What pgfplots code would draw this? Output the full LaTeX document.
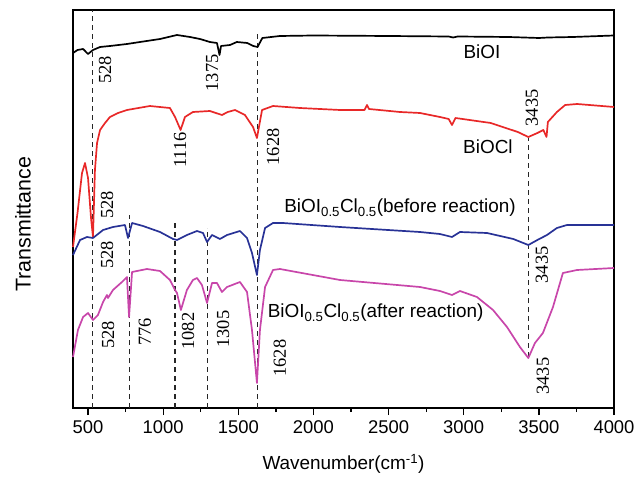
\documentclass[border=0pt]{standalone}
\usepackage{fontspec}
\setmainfont{Liberation Sans}
\newfontfamily\tnr{Liberation Serif}
\usepackage{pgfplots}
\pgfplotsset{compat=1.18}
\definecolor{cRed}{RGB}{232,40,40}
\definecolor{cBlue}{RGB}{40,50,150}
\definecolor{cMag}{RGB}{200,70,170}
\tikzset{
  num/.style={rotate=90, font=\tnr\fontsize{18.5}{18.5}\selectfont, inner sep=0pt},
  lab/.style={font=\fontsize{19}{20}\selectfont, inner sep=0pt},
  guide/.style={dash pattern=on 5bp off 4bp, line width=1.1pt, black!85},
}
\begin{document}
\begin{tikzpicture}
\begin{axis}[
    scale only axis, width=541bp, height=398bp,
    xmin=400, xmax=4000, ymin=0, ymax=398,
    xtick={500,1000,...,4000}, minor x tick num=1,
    ytick=\empty, xtick pos=bottom, tick align=outside,
    major tick length=7bp, minor tick length=4bp,
    axis line style={line width=1.5pt},
    every tick/.style={line width=1.3pt, black},
    /pgf/number format/assume math mode=true,
    /pgf/number format/1000 sep={},
    ticklabel style={font=\fontsize{18.5}{18.5}\selectfont},
    xticklabel style={yshift=-2bp},
    xlabel={Wavenumber(cm\textsuperscript{-1})},
    ylabel={Transmittance},
    xlabel style={font=\fontsize{19}{20}\selectfont, at={([yshift=-56bp]axis description cs:0.5,0)}, anchor=center},
    ylabel style={font=\fontsize{21.5}{22}\selectfont, at={([xshift=-50bp]axis description cs:0,0.462)}, anchor=center},
    clip=false,
]
% dashed guide lines
\addplot[guide] coordinates {(530,0)(530,398)};
\addplot[guide] coordinates {(773,0)(773,193)};
\addplot[guide] coordinates {(1079,0)(1079,186)};
\addplot[guide] coordinates {(1292,0)(1292,180)};
\addplot[guide] coordinates {(1628,0)(1628,375)};
\addplot[guide] coordinates {(3434,51)(3434,270)};

% BiOI
\addplot[black, line width=1.7pt, line join=round] coordinates {
(400,355)(430,358)(467,359)(500,354)(533,358)(580,361)(646,362)(759,364)(846,366)(979,369)(1092,373)(1178,371)(1245,369)(1311,366)(1358,365)(1375,353)(1385,362)(1445,363)(1490,366)(1560,365)(1600,362)(1628,361)(1660,370)(1777,372)(2000,372.5)(2500,372)(2900,371.5)(2929,370.5)(2960,371.5)(3300,371)(3500,370)(3560,370.5)(3727,371)(4000,372.5)
};
% BiOCl
\addplot[cRed, line width=1.7pt, line join=round] coordinates {
(400,161)(430,195)(460,235)(480,245)(500,230)(520,190)(533,171)(546,238)(560,265)(580,278)(613,285)(646,291)(700,295)(759,298)(912,302)(1045,300)(1079,291)(1116,278)(1145,291)(1198,296)(1311,297)(1391,293)(1430,296)(1478,298)(1544,293)(1598,281)(1624,270)(1658,298)(1731,302)(1910,300)(2177,298)(2340,298)(2356,303)(2370,299)(2576,296)(2709,295)(2842,291)(2900,289)(2922,283)(2945,290)(3180,285)(3360,276)(3430,271)(3490,275)(3530,278)(3551,271)(3560,286)(3620,296)(3675,303)(3755,304)(4000,301)
};
% before reaction
\addplot[cBlue, line width=1.7pt, line join=round] coordinates {
(400,153)(447,168)(493,171)(533,170)(600,178)(666,181)(746,183)(766,170)(793,185)(866,182)(979,176)(1066,169)(1092,168)(1158,173)(1225,177)(1265,175)(1292,166)(1325,173)(1378,169)(1425,173)(1511,177)(1558,170)(1591,155)(1624,133)(1644,158)(1678,180)(1731,185)(1797,185)(2177,181)(2709,176)(2842,174)(2922,171)(2975,176)(3155,175)(3330,169)(3430,163)(3490,168)(3554,173)(3620,180)(3687,183)(4000,183)
};
% after reaction
\addplot[cMag, line width=1.7pt, line join=round] coordinates {
(400,51)(433,78)(467,91)(500,95)(533,88)(566,93)(600,106)(626,113)(633,110)(666,118)(726,126)(759,131)(773,91)(793,136)(892,139)(979,137)(1045,128)(1079,118)(1092,115)(1118,98)(1158,118)(1198,128)(1225,130)(1258,123)(1292,105)(1325,125)(1358,125)(1391,116)(1425,121)(1511,126)(1558,116)(1591,78)(1624,25)(1644,78)(1678,121)(1731,138)(1777,139)(2177,128)(2709,121)(2842,117)(2922,113)(2975,117)(3088,111)(3195,98)(3288,81)(3374,61)(3430,50)(3474,65)(3527,75)(3594,101)(3660,135)(3754,138)(4000,140)
};

% peak labels
\node[num] at (axis cs:613,338) {528};
\node[num] at (axis cs:1325,335) {1375};
\node[num] at (axis cs:1112,258) {1116};
\node[num] at (axis cs:1731,261) {1628};
\node[num] at (axis cs:3454,300) {3435};
\node[num] at (axis cs:626,203) {528};
\node[num] at (axis cs:626,153) {528};
\node[num] at (axis cs:3520,143) {3435};
\node[num] at (axis cs:633,73) {528};
\node[num] at (axis cs:879,76) {776};
\node[num] at (axis cs:1165,77) {1082};
\node[num] at (axis cs:1398,79) {1305};
\node[num] at (axis cs:1777,50) {1628};
\node[num] at (axis cs:3527,32) {3435};

% sample labels
\node[lab] at (axis cs:3121,356) {BiOI};
\node[lab] at (axis cs:3161,261) {BiOCl};
\node[lab, anchor=west] at (axis cs:1805,200) {BiOI\textsubscript{0.5}Cl\textsubscript{0.5}(before reaction)};
\node[lab, anchor=west] at (axis cs:1695,95) {BiOI\textsubscript{0.5}Cl\textsubscript{0.5}(after reaction)};
\end{axis}
\pgfresetboundingbox
\path ([shift={(-73bp,-76bp)}]current axis.south west) rectangle ([shift={(22bp,10bp)}]current axis.north east);
\end{tikzpicture}
\end{document}
